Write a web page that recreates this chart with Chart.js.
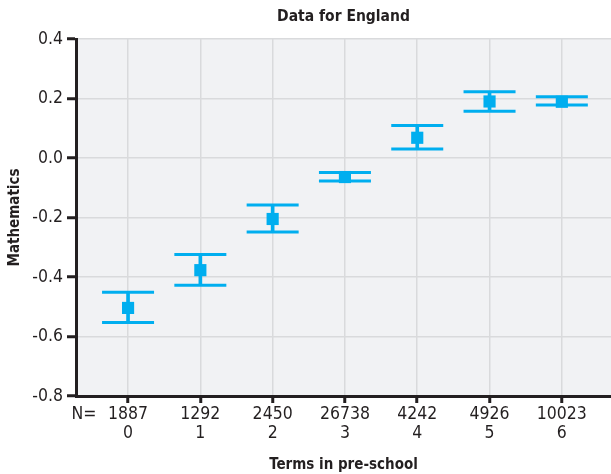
<!DOCTYPE html>
<html>
<head>
<meta charset="utf-8">
<script src="https://cdn.jsdelivr.net/npm/chart.js@4/dist/chart.umd.min.js"></script>
<style>
  html, body { margin: 0; padding: 0; background: #ffffff; }
  canvas { display: block; }
</style>
</head>
<body>
<canvas id="c" width="611" height="474"></canvas>
<script>
// ---- data ----
const categories = ["0", "1", "2", "3", "4", "5", "6"];
const nLabels = ["1887", "1292", "2450", "26738", "4242", "4926", "10023"];
const means  = [-0.504, -0.377, -0.205, -0.064, 0.068, 0.190, 0.189];
const ciLow  = [-0.553, -0.428, -0.249, -0.077, 0.030, 0.157, 0.178];
const ciHigh = [-0.451, -0.324, -0.158, -0.049, 0.109, 0.223, 0.206];
const yTicks = [-0.8, -0.6, -0.4, -0.2, 0.0, 0.2, 0.4];
const nPrefix = "N=";

// ---- style ----
const BLUE = '#00aeef';
const DARK = '#231f20';
const GRID = '#d9dadc';
const PLOT_BG = '#f1f2f4';
const FONT = "'DejaVu Sans Condensed', 'Liberation Sans', sans-serif";
const N_POS = -0.61;

const bgPlugin = {
  id: 'plotBg',
  beforeDraw(chart) {
    const {ctx, chartArea: a} = chart;
    ctx.save();
    ctx.fillStyle = PLOT_BG;
    ctx.fillRect(a.left, a.top, a.right - a.left, a.bottom - a.top);
    ctx.restore();
  }
};

const idx = categories.map((c, i) => i);

new Chart(document.getElementById('c'), {
  type: 'scatter',
  data: {
    datasets: [
      {
        type: 'bar',
        data: idx.map(i => ({x: i, y: [ciLow[i], ciHigh[i]]})),
        backgroundColor: BLUE,
        borderWidth: 0,
        barThickness: 3,
        order: 3
      },
      {
        type: 'scatter',
        data: idx.flatMap(i => [{x: i, y: ciLow[i]}, {x: i, y: ciHigh[i]}]),
        pointStyle: 'line',
        pointRadius: 26,
        pointBorderWidth: 3,
        pointBorderColor: BLUE,
        pointBackgroundColor: BLUE,
        order: 2
      },
      {
        type: 'scatter',
        data: idx.map(i => ({x: i, y: means[i]})),
        pointStyle: 'rect',
        pointRadius: 8.6,
        pointBorderWidth: 0,
        pointBackgroundColor: BLUE,
        order: 1
      }
    ]
  },
  options: {
    responsive: false,
    animation: false,
    events: [],
    layout: { padding: 0, autoPadding: false },
    plugins: {
      legend: { display: false },
      tooltip: { enabled: false },
      title: {
        display: true,
        text: 'Data for England',
        fullSize: false,
        color: DARK,
        font: { family: FONT, size: 15.5, weight: 'bold', lineHeight: 1.2 },
        padding: { top: 8, bottom: 12.4 }
      }
    },
    scales: {
      x: {
        type: 'linear',
        min: -0.72,
        max: 6.68,
        offset: false,
        afterBuildTicks(scale) {
          scale.ticks = [{value: N_POS}].concat(idx.map(i => ({value: i})));
        },
        afterFit(scale) { scale.height = 78; },
        ticks: {
          color: DARK,
          font: { family: FONT, size: 17.5, lineHeight: 1.07 },
          padding: 2,
          maxRotation: 0,
          autoSkip: false,
          callback(value) {
            if (value < -0.5) return [nPrefix, ''];
            const i = Math.round(value);
            return [nLabels[i], categories[i]];
          }
        },
        grid: {
          offset: false,
          color: ctx => (ctx.tick && ctx.tick.value < -0.5) ? 'rgba(0,0,0,0)' : GRID,
          lineWidth: 1.5,
          tickColor: ctx => (ctx.tick && ctx.tick.value < -0.5) ? 'rgba(0,0,0,0)' : DARK,
          tickWidth: 3,
          tickLength: 7
        },
        border: { color: DARK, width: 3 },
        title: {
          display: true,
          text: 'Terms in pre-school',
          color: DARK,
          font: { family: FONT, size: 15, weight: 'bold', lineHeight: 1 },
          padding: { top: 0, bottom: 1 }
        }
      },
      y: {
        type: 'linear',
        min: -0.8,
        max: 0.4,
        afterBuildTicks(scale) {
          scale.ticks = yTicks.map(v => ({value: v}));
        },
        afterFit(scale) { scale.width = 76; },
        ticks: {
          color: DARK,
          font: { family: FONT, size: 17.5 },
          padding: 4,
          callback: v => v.toFixed(1)
        },
        grid: {
          color: GRID,
          lineWidth: 1.5,
          tickColor: DARK,
          tickWidth: 3,
          tickLength: 9
        },
        border: { color: DARK, width: 3 },
        title: {
          display: true,
          text: 'Mathematics',
          color: DARK,
          font: { family: FONT, size: 15, weight: 'bold', lineHeight: 1 },
          padding: { top: 8, bottom: 0 }
        }
      }
    }
  },
  plugins: [bgPlugin]
});
</script>
</body>
</html>
